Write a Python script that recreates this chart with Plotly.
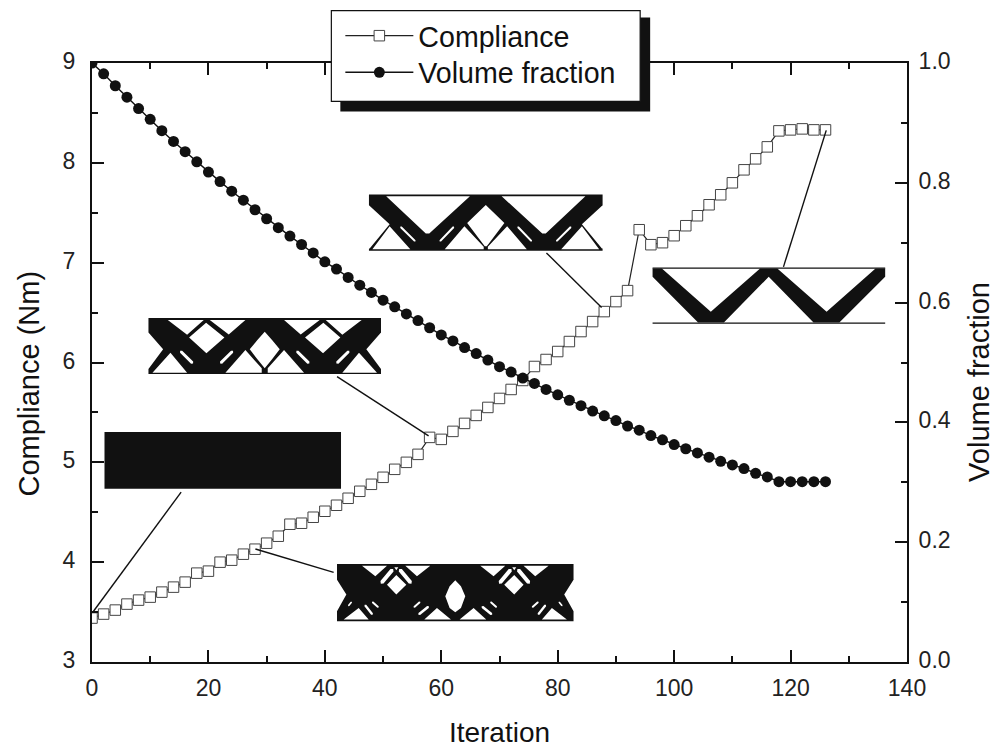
import plotly.graph_objects as go

iterations = [0,2,4,6,8,10,12,14,16,18,20,22,24,26,28,30,32,34,36,38,40,42,44,46,48,50,52,54,56,58,60,62,
              64,66,68,70,72,74,76,78,80,82,84,86,88,90,92,94,96,98,100,102,104,106,108,110,112,114,116,118,120,122,124,126]
compliance = [3.44,3.48,3.52,3.58,3.62,3.65,3.70,3.75,3.80,3.89,3.91,4.00,4.02,4.08,4.13,4.19,4.26,4.38,4.39,4.45,
              4.51,4.57,4.64,4.71,4.78,4.85,4.93,5.00,5.08,5.25,5.23,5.31,5.39,5.47,5.55,5.64,5.73,5.82,5.96,6.03,
              6.11,6.21,6.31,6.41,6.51,6.61,6.72,7.33,7.18,7.20,7.27,7.37,7.47,7.58,7.68,7.80,7.93,8.04,8.16,8.32,
              8.33,8.34,8.33,8.33]
volume_fraction = [1.0,.982,.962,.943,.924,.906,.887,.869,.852,.835,.818,.802,.786,.771,.755,.740,.725,.711,.697,.683,
                   .668,.656,.642,.629,.617,.604,.593,.581,.570,.558,.546,.536,.525,.515,.504,.493,.484,.474,.465,.455,
                   .446,.437,.428,.419,.411,.403,.394,.387,.378,.371,.363,.356,.349,.342,.335,.329,.323,.315,.309,.301,
                   .301,.301,.301,.301]
x_ticks = [0,20,40,60,80,100,120,140]
left_ticks = [3,4,5,6,7,8,9]
right_ticks = [0.0,0.2,0.4,0.6,0.8,1.0]
right_labels = ["0.0","0.2","0.4","0.6","0.8","1.0"]

W, H = 1005, 748
L, R, T, B = 91.5, 907.0, 62.5, 662.5
INK = "#111111"
FONT = "Liberation Sans, Arial, sans-serif"

def pa(px, py):
    return (px - L) / (R - L), (B - py) / (B - T)

def path_of(polys, sx, ox, sy, oy):
    out = []
    for poly in polys:
        pts = [pa(ox + x / sx, oy + y / sy) for x, y in poly]
        out.append("M" + " L".join(f"{a:.5f},{b:.5f}" for a, b in pts) + " Z")
    return " ".join(out)

def capsule(p, q, w):
    dx, dy = q[0] - p[0], q[1] - p[1]
    n = (dx * dx + dy * dy) ** 0.5
    ux, uy = dx / n, dy / n
    nx, ny = -uy * w / 2, ux * w / 2
    ex, ey = ux * w * .45, uy * w * .45
    return [(p[0] - ex, p[1] - ey), (p[0] + nx, p[1] + ny), (q[0] + nx, q[1] + ny),
            (q[0] + ex, q[1] + ey), (q[0] - nx, q[1] - ny), (p[0] - nx, p[1] - ny)]

def rect(x0, y0, x1, y1):
    return [(x0, y0), (x1, y0), (x1, y1), (x0, y1)]

def mirrored(polys, c):
    return polys + [[(2 * c - x, y) for x, y in poly] for poly in polys]

shapes = []
def fill(polys, sx, ox, sy, oy, color=INK):
    shapes.append(dict(type="path", path=path_of(polys, sx, ox, sy, oy), xref="paper", yref="paper",
                       fillcolor=color, fillrule="evenodd", line=dict(width=0), layer="above"))

def leader(x0, y0, x1, y1):
    a, b = pa(x0, y0), pa(x1, y1)
    shapes.append(dict(type="line", x0=a[0], y0=a[1], x1=b[0], y1=b[1], xref="paper", yref="paper",
                       line=dict(color=INK, width=1.4), layer="above"))

# solid initial design
fill([rect(42, 396, 752, 567)], 3, 90, 3, 300)

# upper-left design
side_b = [[(232,60),(340,60),(290,104)], [(358,60),(465,60),(415,103)],
          [(296,112),(347,68),(402,112),(348,160)], [(174,97),(218,148),(174,207)],
          [(186,218),(240,158),(290,218)], capsule((272,155),(305,188),9), capsule((392,188),(425,155),9),
          [(405,218),(465,150),(514,205),(514,218)]]
mid_b = [[(523,95),(545,120),(568,148),(545,178),(523,205),(501,178),(478,148),(501,120)]]
fill([rect(174,54,872,222)] + mirrored(side_b, 523) + mid_b, 3, 90, 3, 300)

# lower design
side_c = [[(815,798),(890,798),(855,830)], [(945,798),(1020,798),(980,830)],
          capsule((875,848),(905,812),12), capsule((930,812),(960,848),12),
          [(912,803),(924,803),(918,812)], [(918,826),(890,855),(918,885),(948,855)],
          [(740,840),(768,885),(740,935)], [(760,960),(805,925),(835,960)],
          capsule((775,918),(783,908),5), capsule((825,918),(845,943),7), capsule((847,908),(863,922),6),
          capsule((972,922),(988,908),6), capsule((987,943),(1013,922),8),
          [(1002,960),(1040,925),(1082,960)]]
mid_c = [[(1095,842),(1112,860),(1125,890),(1112,925),(1095,938),(1078,925),(1065,890),(1078,860)]]
fill([rect(740,793,1450,965)] + mirrored(side_c, 1095) + mid_c, 3, 90, 3, 300)

# upper-middle design
side_d = [[(75,288),(318,288),(200,400),(190,400)], [(25,315),(85,372),(27,445),(25,445)],
          [(35,447),(85,378),(145,447)], capsule((118,381),(158,422),6), capsule((232,422),(270,381),6),
          [(245,447),(302,378),(358,440),(358,447)]]
mid_d = [[(364,314),(418,368),(367,438),(361,438),(310,368)]]
fill([rect(25,283,703,452)] + mirrored(side_d, 364) + mid_d, 2.9, 360, 3, 100)

# right design
fill([[(848,505),(875,505),(1017,635),(1160,505),(1210,505),(1353,635),(1495,505),(1523,505),(1523,530),
       (1390,667),(1315,667),(1185,530),(1055,667),(980,667),(848,530)]], 2.9, 360, 3, 100)
fill([rect(848,502,1523,506)], 2.9, 360, 3, 100)
fill([rect(848,667,1523,671)], 2.9, 360, 3, 100)

leader(180.7, 492.3, 93, 611.7)
leader(336.7, 376.7, 428.3, 436)
leader(255, 549.3, 333.3, 572.7)
leader(546.2, 252.7, 601.4, 307.3)
leader(783.4, 266.7, 826.2, 130)

# legend shadow and frame
s0, s1 = pa(340, 111), pa(650, 17)
shapes.append(dict(type="rect", x0=s0[0], y0=s0[1], x1=s1[0], y1=s1[1], xref="paper", yref="paper",
                   fillcolor=INK, line=dict(width=0), layer="above"))
f0, f1 = pa(331, 101), pa(640, 10)
shapes.append(dict(type="rect", x0=f0[0], y0=f0[1], x1=f1[0], y1=f1[1], xref="paper", yref="paper",
                   fillcolor="white", line=dict(color=INK, width=1.2), layer="above"))

fig = go.Figure()
fig.add_trace(go.Scatter(x=iterations, y=compliance, name="Compliance", mode="lines+markers", showlegend=True,
                         line=dict(color="#222222", width=1.2),
                         marker=dict(symbol="square", size=10.5, color="white", line=dict(color="#444444", width=1))))
fig.add_trace(go.Scatter(x=iterations, y=volume_fraction, name="Volume fraction", yaxis="y2", mode="lines+markers",
                         showlegend=True, line=dict(color=INK, width=1.4), legend="legend2",
                         marker=dict(symbol="circle", size=11, color=INK)))

axis_common = dict(showgrid=False, zeroline=False, showline=True, linecolor=INK, linewidth=2,
                   ticks="inside", ticklen=12, tickwidth=2, tickcolor=INK,
                   tickfont=dict(family=FONT, size=23, color="#222222"))
legend_common = dict(xanchor="left", yanchor="top", bgcolor="rgba(0,0,0,0)", borderwidth=0, itemwidth=68,
                     visible=True, font=dict(family=FONT, size=28.6, color="#111111"))
lx1, ly1 = pa(340, 10)
lx2, ly2 = pa(340, 46.7)
fig.update_layout(
    width=W, height=H, paper_bgcolor="white", plot_bgcolor="white", showlegend=True,
    margin=dict(l=L, r=W - R, t=T, b=H - B, autoexpand=False),
    font=dict(family=FONT, color="#111111"),
    xaxis=dict(range=[0, 140], tickvals=x_ticks, mirror="ticks", ticklabelstandoff=4,
               minor=dict(dtick=10, ticks="inside", ticklen=6, tickwidth=2, tickcolor=INK, showgrid=False),
               title=dict(text="Iteration", font=dict(family=FONT, size=28, color="#111111"), standoff=28),
               **axis_common),
    yaxis=dict(range=[3, 9], tickvals=left_ticks, ticklabelstandoff=10, ticklabelshift=-2,
               minor=dict(dtick=0.5, ticks="inside", ticklen=6, tickwidth=2, tickcolor=INK, showgrid=False),
               **axis_common),
    yaxis2=dict(range=[0, 1], tickvals=right_ticks, ticktext=right_labels, overlaying="y", side="right",
                ticklabelstandoff=5, ticklabelshift=-2,
                minor=dict(dtick=0.1, ticks="inside", ticklen=6, tickwidth=2, tickcolor=INK, showgrid=False),
                **axis_common),
    legend=dict(x=lx1, y=ly1, **legend_common),
    legend2=dict(x=lx2, y=ly2, **legend_common),
    shapes=shapes,
    annotations=[
        dict(text="Compliance (Nm)", xref="paper", yref="paper", x=pa(28, 384)[0], y=pa(28, 384)[1], textangle=-90,
             showarrow=False, font=dict(family=FONT, size=29, color="#111111"), xanchor="center", yanchor="middle"),
        dict(text="Volume fraction", xref="paper", yref="paper", x=pa(979, 382)[0], y=pa(979, 382)[1], textangle=-90,
             showarrow=False, font=dict(family=FONT, size=29, color="#111111"), xanchor="center", yanchor="middle"),
    ],
)
fig.write_html("out.html", config=dict(displayModeBar=False), post_script="document.body.style.margin='0';")
